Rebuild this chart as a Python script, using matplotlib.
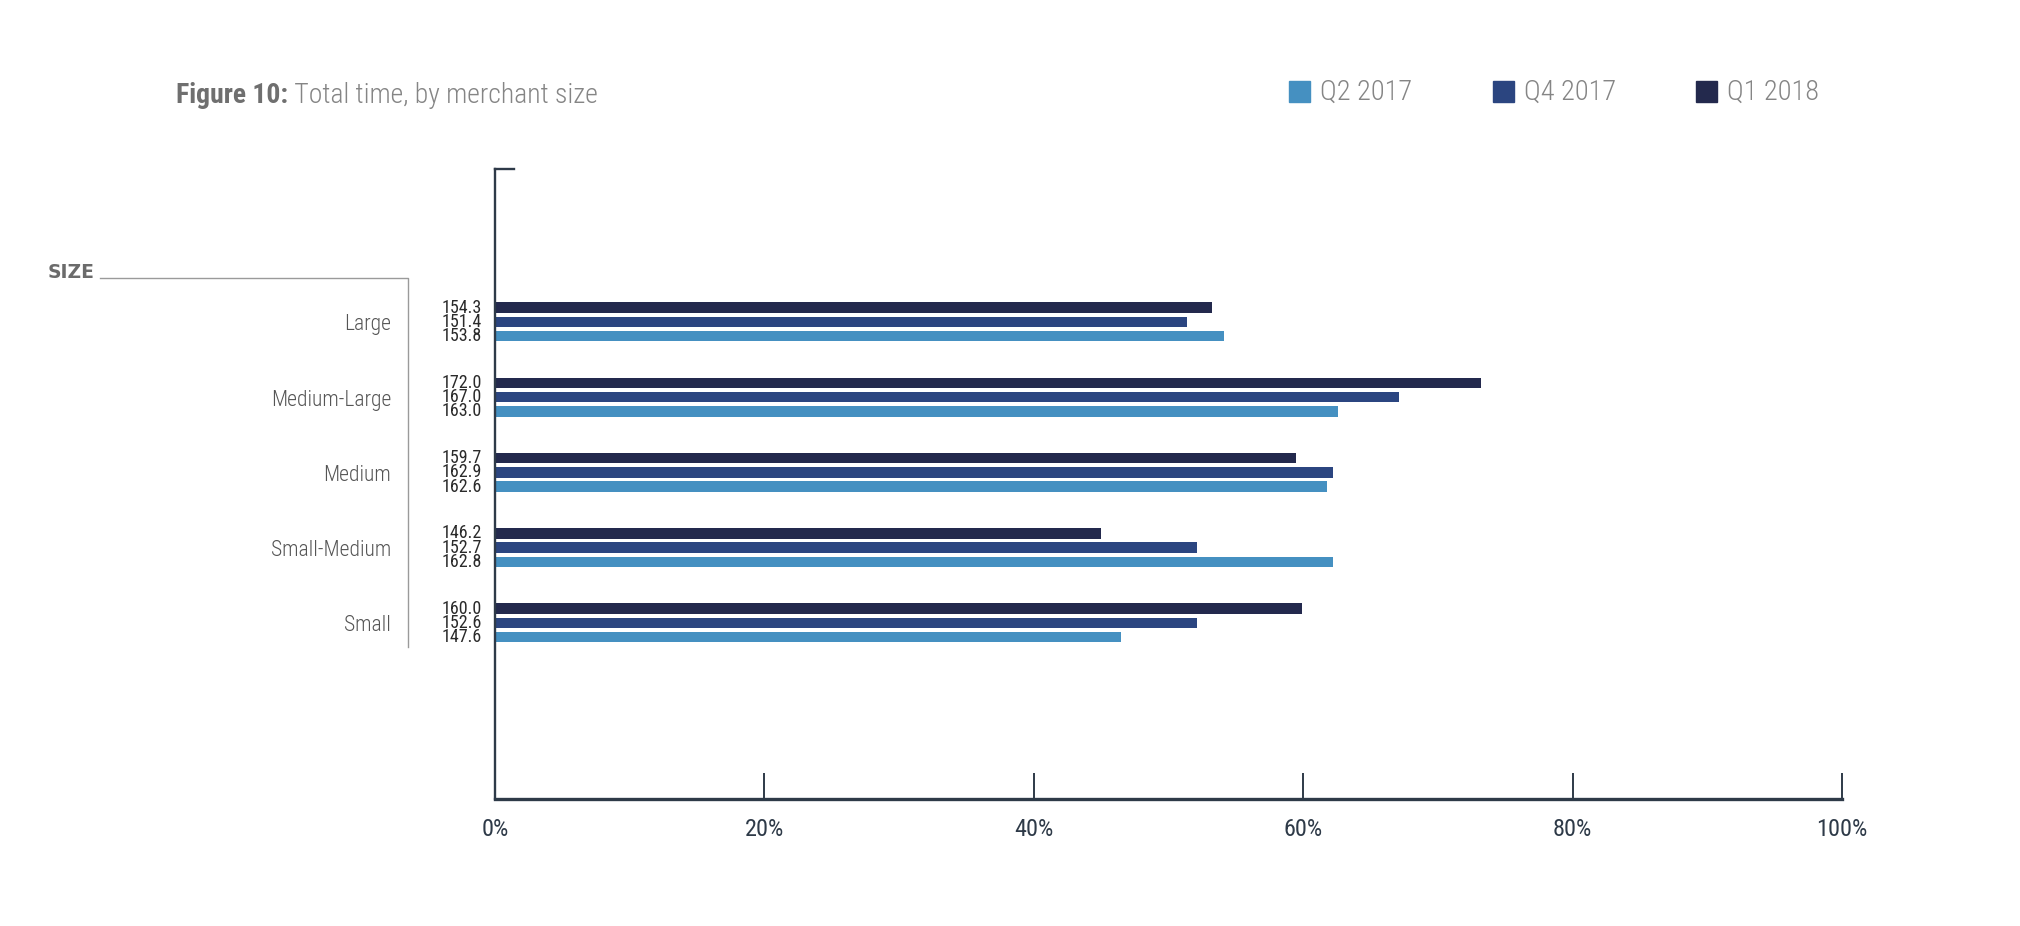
import matplotlib
matplotlib.use('Agg')
import matplotlib.pyplot as plt
from matplotlib.lines import Line2D
from matplotlib.patches import Rectangle
import numpy as np

plt.rcParams['font.family'] = ['Roboto Condensed', 'Liberation Sans Narrow', 'Roboto', 'DejaVu Sans']

# data
sizes = ['Large', 'Medium-Large', 'Medium', 'Small-Medium', 'Small']
series = ['Q2 2017', 'Q4 2017', 'Q1 2018']
# values printed next to the bars
q2_2017 = [153.8, 163.0, 162.6, 162.8, 147.6]
q4_2017 = [151.4, 167.0, 162.9, 152.7, 152.6]
q1_2018 = [154.3, 172.0, 159.7, 146.2, 160.0]
# bar lengths as drawn against the 0-100% axis
q2_2017_pct = [54.1, 62.6, 61.8, 62.2, 46.5]
q4_2017_pct = [51.4, 67.1, 62.2, 52.1, 52.1]
q1_2018_pct = [53.2, 73.2, 59.5, 45.0, 59.9]
x_ticks = [0, 20, 40, 60, 80, 100]
x_labels = ['0%', '20%', '40%', '60%', '80%', '100%']

colors = {'Q2 2017': '#4590C1', 'Q4 2017': '#2B4580', 'Q1 2018': '#23294D'}
axis_color = '#2E3A48'
W, H = 2020, 926

fig = plt.figure(figsize=(W / 100, H / 100), dpi=100)
ax = fig.add_axes([495 / W, 127 / H, 1347 / W, 630 / H])

y = np.arange(len(sizes))
bar_h = 0.14
step = 0.189
rows = [('Q1 2018', q1_2018, q1_2018_pct, -step),
        ('Q4 2017', q4_2017, q4_2017_pct, 0.0),
        ('Q2 2017', q2_2017, q2_2017_pct, step)]

for name, vals, pcts, off in rows:
    ax.barh(y + off, pcts, height=bar_h, color=colors[name], edgecolor='none')
    for yi, v in zip(y, vals):
        ax.text(-0.95, yi + off, f'{v:.1f}', ha='right', va='center',
                fontsize=13, color='#2A2A2A', clip_on=False)

for yi, s in zip(y, sizes):
    ax.text(-7.7, yi + 0.04, s, ha='right', va='center', fontsize=15.5,
            color='#555555', fontweight='light', clip_on=False)

ax.set_xlim(0, 100)
ax.set_ylim(4 + 2.34, -2.03)
ax.set_xticks(x_ticks)
ax.set_xticklabels(x_labels)
ax.set_yticks([])
ax.tick_params(axis='x', direction='in', length=19, width=1.4, colors=axis_color,
               labelsize=17.5, pad=14)

ax.spines['right'].set_visible(False)
ax.spines['left'].set_color(axis_color)
ax.spines['left'].set_linewidth(1.7)
ax.spines['bottom'].set_color(axis_color)
ax.spines['bottom'].set_linewidth(2.4)
ax.spines['top'].set_color(axis_color)
ax.spines['top'].set_linewidth(1.7)
ax.spines['top'].set_bounds(0, 1.4)

# SIZE bracket on the left
fig.add_artist(Line2D([100 / W, 408 / W, 408 / W],
                      [1 - 277.7 / H, 1 - 277.7 / H, 1 - 647 / H],
                      transform=fig.transFigure, color='#9A9A9A', lw=1.0))
fig.text(48 / W, 1 - 273 / H, 'SIZE', fontsize=13.5, fontweight='bold',
         color='#6B6B6B', va='center', ha='left', family=['DejaVu Sans'])

# title
t1 = fig.text(176 / W, 1 - 103 / H, 'Figure 10:', fontsize=20, fontweight='bold',
              color='#6F6F6F', va='baseline', ha='left')
ax.annotate(' Total time, by merchant size', xy=(1, 0), xycoords=t1,
            fontsize=20, fontweight='light', color='#858585',
            va='bottom', ha='left', annotation_clip=False)

# legend, drawn by hand
leg_x = [1289, 1493, 1696]
for x0, name in zip(leg_x, series):
    fig.patches.append(Rectangle((x0 / W, 1 - 102 / H), 21 / W, 21 / H,
                                 transform=fig.transFigure, color=colors[name]))
    fig.text((x0 + 31) / W, 1 - 92 / H, name, fontsize=20.5, fontweight='light',
             color='#858585', va='center', ha='left')

fig.savefig('out.png', dpi=100)
